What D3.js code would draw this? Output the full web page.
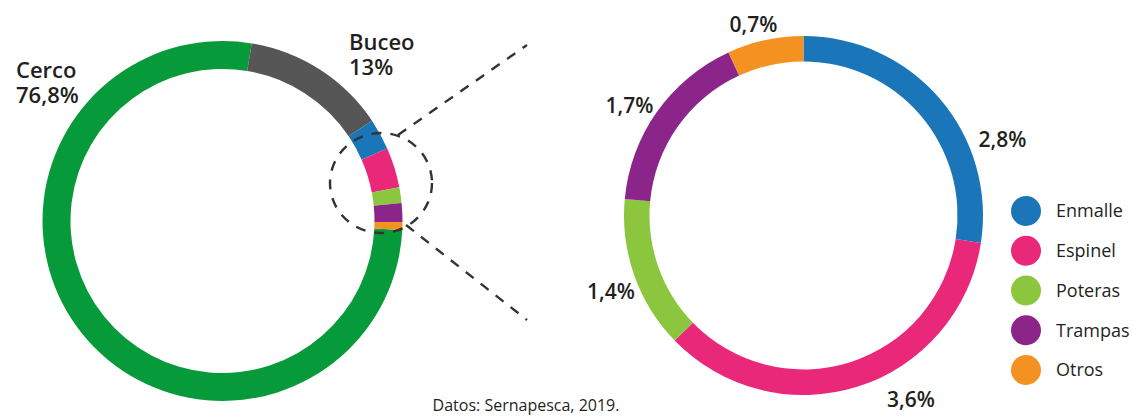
<!DOCTYPE html>
<html>
<head>
<meta charset="utf-8">
<script src="https://cdn.jsdelivr.net/npm/d3@7"></script>
<style>
  body { margin: 0; background: #fff; }
  svg text { font-family: "Open Sans", sans-serif; fill: #231f20; }
</style>
</head>
<body>
<svg width="1132" height="416"></svg>
<script>
// todas las artes (izquierda)
var allNames = ["Cerco", "Buceo", "Enmalle", "Espinel", "Poteras", "Trampas", "Otros"];
var allValues = [76.8, 13, 2.8, 3.6, 1.4, 1.7, 0.7];

// detalle de artes menores (derecha)
var minorNames = ["Enmalle", "Espinel", "Poteras", "Trampas", "Otros"];
var minorValues = [2.8, 3.6, 1.4, 1.7, 0.7];
var minorLabels = ["2,8%", "3,6%", "1,4%", "1,7%", "0,7%"];

var bigNames = ["Cerco", "Buceo"];
var bigLabels = ["76,8%", "13%"];

var color = d3.scaleOrdinal()
    .domain(allNames)
    .range(["#079a3b", "#565656", "#1a75b9", "#e9287a", "#8cc63f", "#8b2589", "#f39220"]);

var svg = d3.select("svg");

// ---- donut izquierdo (Cerco arranca a las 3 en punto)
var a0 = Math.PI / 2 + 0.05;
var leftPie = d3.pie().sort(null).value(function(d) { return d.v; })
    .startAngle(a0).endAngle(a0 + 2 * Math.PI);
var leftArc = d3.arc().innerRadius(152).outerRadius(180);

var gl = svg.append("g").attr("transform", "translate(222.5,221)");
gl.selectAll("path")
  .data(leftPie(allNames.map(function(n, i) { return {n: n, v: allValues[i]}; })))
  .enter().append("path")
    .attr("d", leftArc)
    .attr("fill", function(d) { return color(d.data.n); });

// etiquetas Cerco / Buceo
var bigPos = [[16, 78], [349, 50]];
bigNames.forEach(function(n, i) {
  svg.append("text")
      .attr("x", bigPos[i][0]).attr("y", bigPos[i][1])
      .attr("font-size", 22).attr("font-weight", 600)
      .text(n);
  svg.append("text")
      .attr("x", bigPos[i][0]).attr("y", bigPos[i][1] + 25)
      .attr("font-size", 22).attr("font-weight", 600)
      .text(bigLabels[i]);
});

// lupa punteada
var dash = {stroke: "#333", "stroke-width": 2.4, "stroke-dasharray": "10,9", fill: "none"};
var lens = svg.append("ellipse").attr("cx", 381).attr("cy", 183).attr("rx", 51).attr("ry", 50);
var l1 = svg.append("line").attr("x1", 398).attr("y1", 135).attr("x2", 527).attr("y2", 45);
var l2 = svg.append("line").attr("x1", 406).attr("y1", 225).attr("x2", 527).attr("y2", 320);
[lens, l1, l2].forEach(function(s) { for (var k in dash) s.attr(k, dash[k]); });

// ---- donut derecho
var rightPie = d3.pie().sort(null).value(function(d) { return d.v; });
var rightArc = d3.arc().innerRadius(154).outerRadius(179.5);

var gr = svg.append("g").attr("transform", "translate(803.5,215.5)");
gr.selectAll("path")
  .data(rightPie(minorNames.map(function(n, i) { return {n: n, v: minorValues[i]}; })))
  .enter().append("path")
    .attr("d", rightArc)
    .attr("fill", function(d) { return color(d.data.n); });

var minorPos = [[1002.5, 147], [911, 407], [611, 299], [629.5, 113], [753.5, 32]];
svg.selectAll("text.pct")
  .data(minorLabels)
  .enter().append("text")
    .attr("class", "pct")
    .attr("x", function(d, i) { return minorPos[i][0]; })
    .attr("y", function(d, i) { return minorPos[i][1]; })
    .attr("text-anchor", "middle")
    .attr("font-size", 21)
    .attr("font-weight", 600)
    .text(function(d) { return d; });

// leyenda
var ly = d3.scalePoint().domain(minorNames).range([211, 370]);
var leg = svg.selectAll("g.leg")
  .data(minorNames)
  .enter().append("g")
    .attr("class", "leg")
    .attr("transform", function(d) { return "translate(1026," + ly(d) + ")"; });
leg.append("circle").attr("r", 15).attr("fill", function(d) { return color(d); });
leg.append("text").attr("x", 30).attr("dy", "0.35em").attr("font-size", 18).attr("font-weight", 500)
    .text(function(d) { return d; });

svg.append("text")
    .attr("x", 526).attr("y", 411)
    .attr("text-anchor", "middle")
    .attr("font-size", 16)
    .text("Datos: Sernapesca, 2019.");
</script>
</body>
</html>
